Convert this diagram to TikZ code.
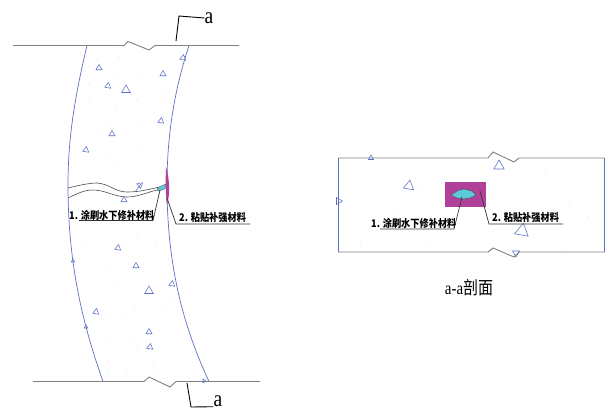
\documentclass[tikz,border=0pt]{standalone}
\usepackage{fontspec}
\setmainfont{Liberation Serif}
\newfontfamily\cjk{Noto Sans CJK SC}
\definecolor{wallblue}{HTML}{5B70C4}
\definecolor{patchpink}{HTML}{B0409A}
\definecolor{fillteal}{HTML}{5CC8D8}
\tikzset{
  wall/.style={draw=wallblue,line width=0.7pt},
  ground/.style={draw=black!50,line width=0.9pt},
  leader/.style={draw=black!80,line width=0.7pt},
  cutmark/.style={draw=black,line width=0.9pt},
  stone/.style={draw=wallblue,line width=0.55pt},
  note/.style={inner sep=0pt,yscale=1.15,transform shape,font=\fontsize{9.2}{10}\selectfont\cjk\bfseries},
  cutletter/.style={inner sep=0pt,xscale=0.85,transform shape,font=\fontsize{23}{24}\selectfont}
}
\begin{document}
\begin{tikzpicture}[x=1pt,y=-1pt]
  \useasboundingbox (0,0) rectangle (605,410);
  % wall seen from the side
  \draw[wall] (87,45.5) .. controls (74,100) and (68,140) .. (68,185)
    .. controls (68,270) and (85,330) .. (103,381.5);
  \draw[wall] (189,45.5) .. controls (176,85) and (167,130) .. (167,185)
    .. controls (167,270) and (185,330) .. (209,381.5);
  \draw[ground] (13,45.5) -- (124,45.5) -- (128,41.5) -- (149,50) -- (155,45.5) -- (239,45.5);
  \draw[ground] (33,381.5) -- (144,381.5) -- (149,377) -- (170,387) -- (176,381.5) -- (260,381.5);
  % crack
  \draw[black!70,line width=0.6pt] (68,188) .. controls (80,185) and (90,183) .. (97,183)
    .. controls (110,184) and (115,192) .. (127,192) .. controls (140,192) and (150,189) .. (160,187);
  \draw[black!70,line width=0.6pt] (68,198) .. controls (78,193) and (85,190) .. (93,190)
    .. controls (105,190) and (115,197) .. (127,197) .. controls (138,197) and (148,192) .. (157,190);
  \fill[fillteal,draw=black!70,line width=0.3pt] (157,189) -- (160,186.5) -- (166,184) -- (165,189) -- (158,191) -- cycle;
  \fill[patchpink] (166,167) .. controls (170,180) and (170,195) .. (167,205)
    .. controls (165.5,195) and (165.5,180) .. (166,167) -- cycle;
  % section view
  \draw[wall,line width=1pt] (338,158) -- (338,252);
  \draw[wall] (604.5,158) -- (604.5,252);
  \draw[ground] (338,158) -- (488,158) -- (493,152) -- (514,162) -- (519,158) -- (605,158);
  \draw[ground] (338,252) -- (488,252) -- (493,248) -- (514,257) -- (519,252) -- (605,252);
  \fill[patchpink] (445,182) rectangle (486,207);
  \filldraw[fill=fillteal,draw=black!70,line width=0.4pt] (451,195) -- (458,190.5) -- (464,189)
    -- (472,191) -- (476,195) -- (470,198) -- (463,199) -- (457,198) -- cycle;
  % stones
  \foreach \x/\y/\r/\s in {183/58/200/3.5,99/68/90/3.5,163/74/90/3.5,108/86/200/3.5,126/90/90/5,
      161/121/200/3.5,112/134/90/3.5,86/150/200/3.5,140/185/40/3.5,124/200/90/3.5,
      118/248/200/3.5,136/266/90/3.5,149/291/90/5,172/284/200/3.5,96/312/200/3.5,
      149/332/90/3.5,150/347/200/3.5,73/261/90/2,86/327/90/2,204/381/0/2,
      371/158/90/3,409/186/200/6,499/166/90/6,522/231/80/8,516/253/30/4,338.5/201/0/4}
    \draw[stone] (\x,\y) +(-\r:\s) -- +(-\r-120:\s) -- +(-\r-240:\s) -- cycle;
  \draw[stone] (135,192) -- (141,184);
  \foreach \x/\y in {117/48,119/57,97/60,141/76,117/78,89/84,96/91,166/91,89/99,137/100,116/106,
      163/103,106/123,101/134,138/127,85/136,148/136,107/156,139/149,160/146,160/158,114/165,
      83/183,116/184,113/224,137/237,157/245,85/247,125/246,156/241,107/267,96/270,144/272,102/280,
      115/281,88/306,135/307,110/316,173/300,126/316,156/304,107/340,133/340,166/310,190/340,137/350,
      108/361,153/363,158/370,127/373,108/372,
      360/243,361/246,397/240,397/212,421/188,429/243,474/232,473/192,493/197,526/168,545/170,
      569/202,588/200,588/217,565/250}
    \fill[wallblue!70] (\x,\y) circle (0.35);
  % cut marks
  \node[cutletter] (aTop) at (209,18) {a};
  \node[cutletter] (aBottom) at (218,401) {a};
  \coordinate (aTopFoot) at (176,41);
  \coordinate (aTopBend) at (179,16);
  \coordinate (aBottomFoot) at (187,383);
  \coordinate (aBottomBend) at (191,407);
  \draw[cutmark] (aTopFoot) -- (aTopBend) -- (aTop.west);
  \draw[cutmark] (aBottomFoot) -- (aBottomBend) -- (aBottom.south west);
  % labels, side view
  \node[note,anchor=west] (repairSide) at (69,215) {1. 涂刷水下修补材料};
  \node[note,anchor=west] (patchSide) at (179,218) {2. 粘贴补强材料};
  \coordinate (repairSideTip) at (160,190);
  \coordinate (repairSideBend) at (153,220.5);
  \coordinate (repairSideEnd) at (79,220.5);
  \coordinate (patchSideTip) at (167,198);
  \coordinate (patchSideBend) at (176,224);
  \coordinate (patchSideEnd) at (250,224);
  \draw[leader] (repairSideTip) -- (repairSideBend) -- (repairSideEnd);
  \draw[leader] (patchSideTip) -- (patchSideBend) -- (patchSideEnd);
  % labels, section view
  \node[note,anchor=west] (repairCut) at (371,223) {1. 涂刷水下修补材料};
  \node[note,anchor=west] (patchCut) at (492,218) {2. 粘贴补强材料};
  \coordinate (repairCutTip) at (462,197);
  \coordinate (repairCutBend) at (454,229);
  \coordinate (repairCutEnd) at (380,229);
  \coordinate (patchCutTip) at (480,191);
  \coordinate (patchCutBend) at (489,224);
  \coordinate (patchCutEnd) at (563,224);
  \draw[leader] (repairCutTip) -- (repairCutBend) -- (repairCutEnd);
  \draw[leader] (patchCutTip) -- (patchCutBend) -- (patchCutEnd);
  \node[inner sep=0pt,yscale=1.2,transform shape,font=\fontsize{15}{16}\selectfont] (cutTitle) at (469,288) {a-a{\cjk 剖面}};
\end{tikzpicture}
\end{document}
